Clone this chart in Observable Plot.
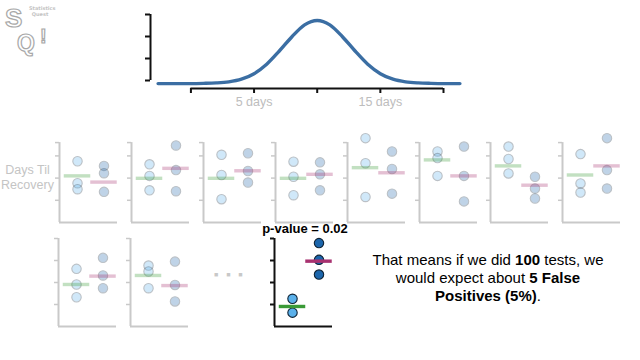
<!DOCTYPE html>
<html>
<head>
<meta charset="utf-8">
<script src="https://cdn.jsdelivr.net/npm/d3@7"></script>
<script src="https://cdn.jsdelivr.net/npm/@observablehq/plot@0.6"></script>
<style>
  body { margin: 0; background: #fff; font-family: "Liberation Sans", Arial, Helvetica, sans-serif; }
  #wrap { position: relative; width: 640px; height: 360px; overflow: hidden; background: #fff; }
  .abs { position: absolute; }
  .abs svg { background: transparent !important; overflow: visible; }
  #logo { left: 2px; top: 2px; width: 52px; height: 58px; }
  #logo .big { position: absolute; font-weight: bold; font-family: "Liberation Sans", Arial, sans-serif; color: #fff;
    -webkit-text-stroke: 1.2px #a8a8a8; }
  #logo .small { position: absolute; left: 27px; top: 3px; font: bold 5px/6px "DejaVu Sans", sans-serif; color: #c4c4c4; width: 22px; text-align: center; }
  #ylab { left: 0; top: 163px; width: 55px; text-align: center; font-size: 12.5px; line-height: 15px; color: #c4c4c4; }
  #pval { left: 245px; top: 221px; width: 120px; text-align: center; font-weight: bold; font-size: 13px; line-height: 15px; color: #000; }
  #dots3 { left: 214px; top: 271px; font-size: 7px; color: #c8c8c8; letter-spacing: 3px; }
  #msg { left: 350px; top: 251px; width: 276px; text-align: center; font-size: 15px; line-height: 18px; color: #000; }
</style>
</head>
<body>
<div id="wrap">
  <div id="logo" class="abs">
    <div class="small">Statistics<br>Quest</div>
    <div class="big" style="left:3px;top:3px;font-size:26px;line-height:26px;">S</div>
    <div class="big" style="left:15px;top:30px;font-size:23px;line-height:23px;">Q</div>
    <div class="big" style="left:38px;top:24px;font-size:20px;line-height:20px;">!</div>
  </div>
  <div id="top" class="abs" style="left:130px;top:0px;"></div>
  <div id="ylab" class="abs">Days Til<br>Recovery</div>
  <div id="pval" class="abs">p-value = 0.02</div>
  <div id="dots3" class="abs">■ ■ ■</div>
  <div id="msg" class="abs">That means if we did <b>100</b> tests, we<br>would expect about <b>5 False</b><br><b>Positives (5%)</b>.</div>
</div>
<script>
// ---------- data ----------
// normal curve (days, height in axis units)
const curveDays   = [-2.6, -2, -1, 0, 1, 2, 3, 4, 5, 6, 7, 8, 9, 10, 11, 12, 13, 14, 15, 16, 17, 18, 19, 20, 21, 21.3];
const curveHeight = [-0.14, -0.14, -0.14, -0.14, -0.13, -0.11, -0.06, 0.06, 0.31, 0.74, 1.34, 1.99, 2.53, 2.73, 2.53, 1.99, 1.34, 0.74, 0.31, 0.06, -0.06, -0.11, -0.13, -0.14, -0.14, -0.14];
const dayTicks = [0, 5, 10, 15, 20];
const dayTickLabels = ["", "5 days", "", "15 days", ""];
const densityTicks = [0, 1, 2, 3];
const dayDomain = [-3.2, 20];

// two groups per panel
const groups = ["Drug A", "Drug B"];
// Days til recovery, group A (light) and B (dark), panels 1-10 (faded) and the highlighted one
const groupA = [
  [2.76, 1.77, 1.50],
  [2.62, 2.10, 1.45],
  [3.05, 2.14, 1.05],
  [2.74, 2.06, 1.23],
  [3.80, 2.67, 1.15],
  [3.20, 2.90, 2.10],
  [3.42, 2.86, 2.21],
  [3.08, 1.76, 1.35],
  [2.62, 1.91, 1.33],
  [2.77, 2.50, 1.74]
];
const groupB = [
  [2.55, 2.22, 1.38],
  [3.47, 2.36, 1.41],
  [3.12, 2.32, 1.80],
  [2.71, 2.17, 1.45],
  [3.20, 2.41, 1.30],
  [3.42, 2.10, 0.95],
  [2.06, 1.53, 1.08],
  [3.80, 2.36, 1.53],
  [3.12, 2.32, 1.74],
  [2.95, 1.89, 1.14]
];
const meanA = [2.10, 1.99, 1.99, 1.99, 2.47, 2.82, 2.55, 2.14, 1.91, 2.32];
const meanB = [1.82, 2.44, 2.33, 2.17, 2.24, 2.10, 1.68, 2.55, 2.29, 1.86];
const highlightA = [1.26, 0.63];
const highlightB = [3.79, 3.03, 2.36];
const highlightMeanA = 0.91;
const highlightMeanB = 2.97;

const row1Ticks = [1, 2, 3, 3.6];
const row2Ticks = [1, 2, 3, 4];

// ---------- top normal curve ----------
const curve = curveDays.map((d, i) => ({day: d, h: curveHeight[i]}));
document.getElementById("top").append(Plot.plot({
  width: 340, height: 115,
  marginLeft: 20, marginRight: 10, marginTop: 10, marginBottom: 27,
  style: {background: "transparent", fontFamily: "'Liberation Sans', Arial, sans-serif"},
  x: {domain: dayDomain, range: [20, 313], axis: null},
  y: {domain: [0, 3], range: [80, 14], axis: null},
  marks: [
    Plot.ruleX([dayDomain[0]], {y1: densityTicks[0], y2: densityTicks[densityTicks.length - 1], stroke: "#111", strokeWidth: 2}),
    Plot.axisY(densityTicks, {anchor: "left", label: null, tickSize: 5, tickFormat: () => "", stroke: "#111", strokeWidth: 2}),
    Plot.ruleY([densityTicks[0]], {x1: dayTicks[0], x2: dayTicks[dayTicks.length - 1], dy: 8, stroke: "#111", strokeWidth: 2}),
    Plot.axisX(dayTicks, {anchor: "bottom", label: null, tickSize: 5, tickPadding: 4, tickFormat: (d, i) => dayTickLabels[i],
      stroke: "#111", strokeWidth: 2, fill: "#bdbdbd", fontSize: 12.5}),
    Plot.line(curve, {x: "day", y: "h", stroke: "#3b6ea3", strokeWidth: 3.4, curve: "monotone-x"})
  ]
}));

// ---------- panels ----------
const colA = "#5ab0ea", colB = "#1c66ac", dotStroke = "#0e2235", colMeanA = "#3a9a36", colMeanB = "#a83270";
const groupX = [1, 2];
const panelXDomain = [0.32, 2.51];

function panel(left, bottomY, unit, topVal, ticks, a, b, ma, mb, faded) {
  const ml = 8, w = 70, h = 100, bottom = 94;
  const op = faded ? 0.28 : 1;
  const axisCol = faded ? "#c9c9c9" : "#111";
  const dots = [
    ...a.map(v => ({g: groupX[0], grp: groups[0], v})),
    ...b.map(v => ({g: groupX[1], grp: groups[1], v}))
  ];
  const means = [{g: groupX[0], v: ma, c: colMeanA}, {g: groupX[1], v: mb, c: colMeanB}];
  const div = document.createElement("div");
  div.className = "abs";
  div.style.left = (left - ml) + "px";
  div.style.top = (bottomY - bottom) + "px";
  div.append(Plot.plot({
    width: w, height: h, marginLeft: ml, marginRight: 4, marginTop: 2, marginBottom: h - bottom,
    style: {background: "transparent"},
    x: {domain: panelXDomain, range: [ml, ml + 58], axis: null},
    y: {domain: [0, topVal], range: [bottom, bottom - topVal * unit], axis: null},
    marks: [
      Plot.ruleY([0], {x1: panelXDomain[0], x2: panelXDomain[1], stroke: axisCol, strokeWidth: 2}),
      Plot.ruleX([panelXDomain[0]], {y1: 0, y2: topVal, stroke: axisCol, strokeWidth: 2}),
      Plot.axisY(ticks, {anchor: "left", label: null, tickSize: 4, tickFormat: () => "", stroke: axisCol, strokeWidth: faded ? 1.5 : 2}),
      Plot.dot(dots, {x: "g", y: "v", r: 4.7, fill: d => d.g === groupX[0] ? colA : colB,
        stroke: dotStroke, strokeWidth: 1.1, opacity: op}),
      Plot.ruleY(means, {y: "v", x1: d => d.g - 0.5, x2: d => d.g + 0.5, stroke: "c", strokeWidth: 3.4, opacity: faded ? 0.3 : 1})
    ]
  }));
  document.getElementById("wrap").append(div);
}

for (let i = 0; i < 8; i++) {
  panel(59 + 71.9 * i, 221.5, 22.2, 3.6, row1Ticks, groupA[i], groupB[i], meanA[i], meanB[i], true);
}
for (let j = 0; j < 2; j++) {
  panel(58 + 72 * j, 326, 22, 4, row2Ticks, groupA[8 + j], groupB[8 + j], meanA[8 + j], meanB[8 + j], true);
}
panel(58 + 72 * 3, 326, 22, 4, row2Ticks, highlightA, highlightB, highlightMeanA, highlightMeanB, false);
</script>
</body>
</html>
